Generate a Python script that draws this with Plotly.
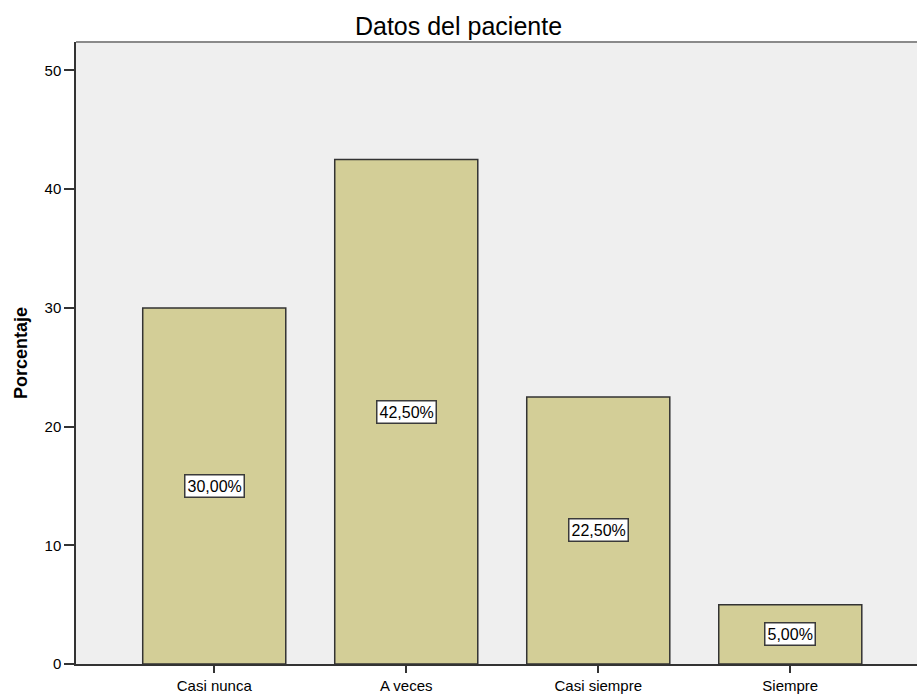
import plotly.graph_objects as go

categorias = ["Casi nunca", "A veces", "Casi siempre", "Siempre"]
porcentajes = [30.0, 42.5, 22.5, 5.0]
etiquetas = ["30,00%", "42,50%", "22,50%", "5,00%"]
y_ticks = [0, 10, 20, 30, 40, 50]

posiciones = list(range(len(categorias)))
fuente = "Arial, Liberation Sans, sans-serif"

fig = go.Figure()
fig.add_trace(go.Bar(
    x=posiciones,
    y=porcentajes,
    width=0.745,
    marker=dict(color="#D3CE97", line=dict(color="#333333", width=1.5)),
    hoverinfo="skip",
))

# value labels in white boxes at the middle of each bar
for xp, v, t in zip(posiciones, porcentajes, etiquetas):
    fig.add_annotation(
        x=xp, y=v / 2, text=t, showarrow=False,
        font=dict(family=fuente, size=16, color="#000000"),
        bgcolor="#FFFFFF", bordercolor="#3A3A3A", borderwidth=1.5, borderpad=2,
    )

# top frame line of the plot area
fig.add_shape(type="line", xref="paper", yref="paper", x0=0, x1=1, y0=1, y1=1,
              line=dict(color="#8A8A8A", width=2))

fig.update_layout(
    width=917, height=695,
    margin=dict(l=76, r=0, t=42, b=31),
    paper_bgcolor="#FFFFFF",
    plot_bgcolor="#EFEFEF",
    showlegend=False,
    title=dict(text="Datos del paciente", x=0.5, xanchor="center", y=0.962, yanchor="middle",
               font=dict(family=fuente, size=25, color="#000000")),
    xaxis=dict(
        range=[-0.72, 3.66], automargin=False,
        tickmode="array", tickvals=posiciones, ticktext=categorias,
        ticks="outside", ticklen=7, tickcolor="#333333", tickwidth=1.5,
        showgrid=False, zeroline=False,
        showline=True, linecolor="#333333", linewidth=1.5,
        tickfont=dict(family=fuente, size=15, color="#000000"),
    ),
    yaxis=dict(
        range=[0, 52.4], automargin=False,
        tickmode="array", tickvals=y_ticks,
        ticks="outside", ticklen=10, tickcolor="#333333", tickwidth=1.5,
        showgrid=False, zeroline=False,
        showline=True, linecolor="#333333", linewidth=1.5,
        tickfont=dict(family=fuente, size=15, color="#000000"),
        title=dict(text="<b>Porcentaje</b>", standoff=12,
                   font=dict(family=fuente, size=18, color="#000000")),
    ),
)

fig.write_html("out.html")
